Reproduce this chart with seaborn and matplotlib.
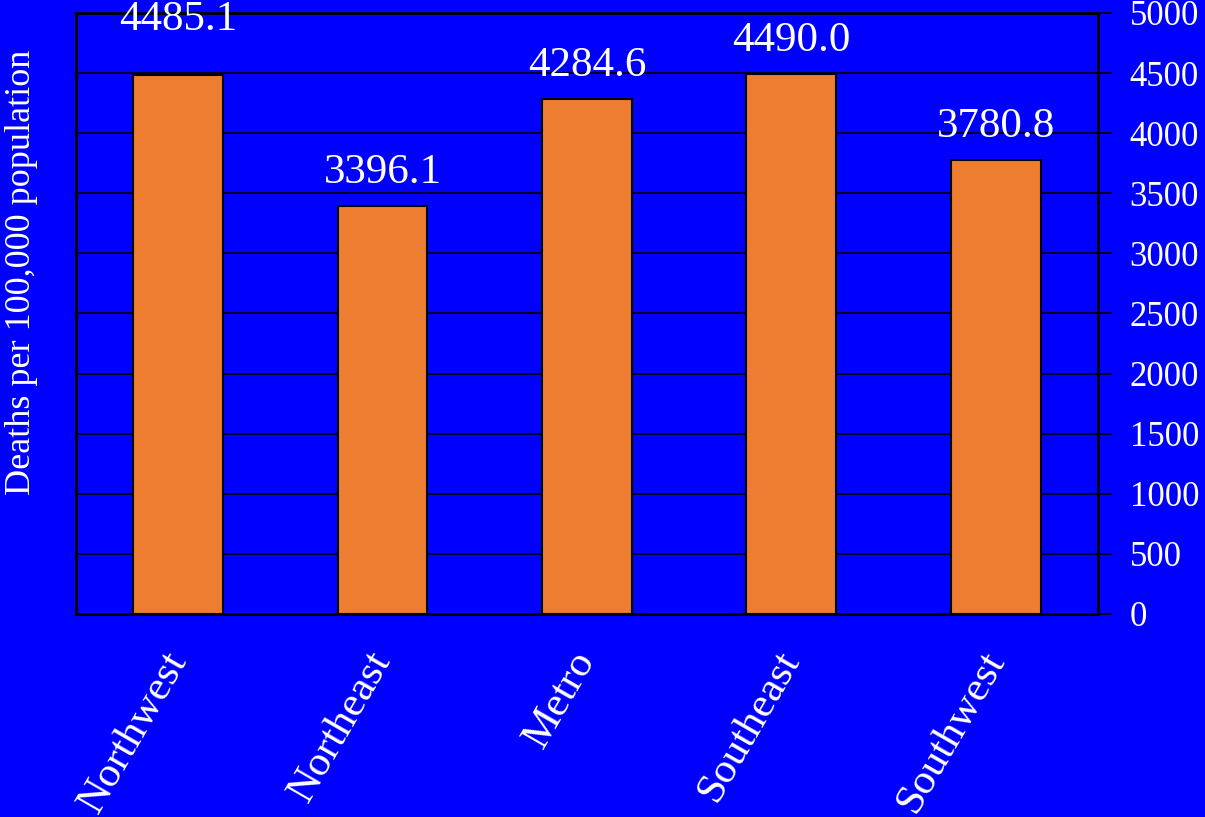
import matplotlib
matplotlib.use("Agg")
import matplotlib.pyplot as plt
import seaborn as sns
import pandas as pd
import numpy as np

regions = ["Northwest", "Northeast", "Metro", "Southeast", "Southwest"]
deaths = [4485.1, 3396.1, 4284.6, 4490.0, 3780.8]
y_ticks = [0, 500, 1000, 1500, 2000, 2500, 3000, 3500, 4000, 4500, 5000]

df = pd.DataFrame({"region": regions, "deaths": deaths})

sns.set_style("white")
plt.rcParams["font.family"] = ["Liberation Serif", "DejaVu Serif"]

fig = plt.figure(figsize=(12.05, 8.17), dpi=100)
fig.patch.set_facecolor("#0000FF")
ax = fig.add_axes([0.063, 0.2485, 0.848, 0.7356])
ax.set_facecolor("#0000FF")

sns.barplot(data=df, x="region", y="deaths", color="#ED7D31", saturation=1,
            edgecolor="black", linewidth=1.5, width=0.44, ax=ax, zorder=3)

ax.set_ylim(0, 5000)
ax.set_xlim(-0.5, len(regions) - 0.5)
ax.set_yticks(y_ticks)
ax.yaxis.tick_right()
ax.yaxis.grid(True, color="black", linewidth=1.2, zorder=0)
ax.set_axisbelow(True)
ax.tick_params(axis="y", which="major", direction="out", length=10, width=1.2,
               color="black", labelcolor="white", labelsize=25, pad=13)

# category boundaries get the x ticks
ax.set_xticks(np.arange(len(regions) + 1) - 0.5, minor=True)
ax.tick_params(axis="x", which="minor", direction="out", length=12, width=1.2, color="black")
ax.tick_params(axis="x", which="major", length=0, labelcolor="white", labelsize=31, pad=29)
plt.setp(ax.get_xticklabels(), rotation=60, ha="right", va="center", rotation_mode="anchor")

for s in ax.spines.values():
    s.set_color("black")
    s.set_linewidth(2)
    s.set_visible(True)

ax.set_xlabel("")
ax.set_ylabel("")
fig.text(0.018, 0.667, "Deaths per 100,000 population", rotation=90, color="white",
         fontsize=26, ha="center", va="center")

labels = ax.bar_label(ax.containers[0], fmt="%.1f", color="white", fontsize=31, padding=10)
labels[0].xyann = (0, 26)

fig.savefig("out.png", dpi=100, facecolor=fig.get_facecolor())
